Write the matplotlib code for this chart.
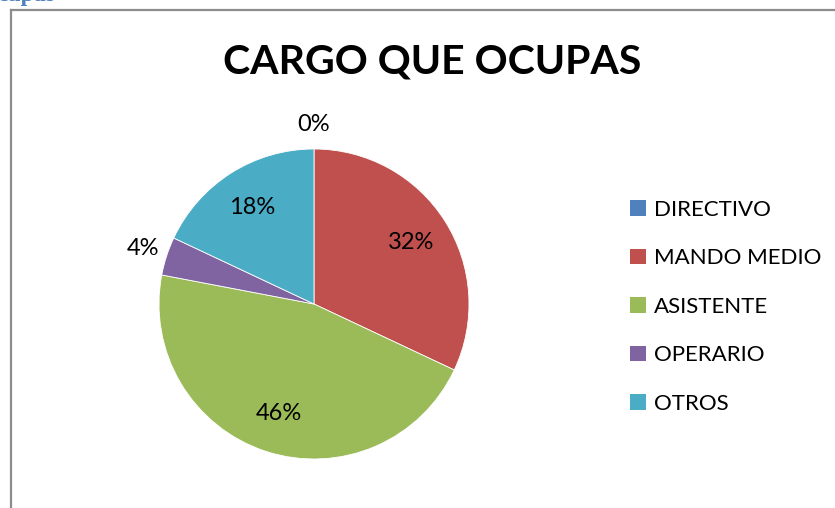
import matplotlib.pyplot as plt
import numpy as np
from matplotlib.lines import Line2D
from matplotlib.patches import Patch

categorias = ['DIRECTIVO', 'MANDO MEDIO', 'ASISTENTE', 'OPERARIO', 'OTROS']
valores = [0, 32, 46, 4, 18]
colores = ['#4F81BD', '#C0504D', '#9BBB59', '#8064A2', '#4BACC6']

plt.rcParams['font.family'] = ['Lato', 'DejaVu Sans']

W, H = 835, 508
fig = plt.figure(figsize=(W / 100, H / 100), dpi=100)

# marco del grafico (borde gris arriba e izquierda)
fig.add_artist(Line2D([11 / W, 11 / W], [0, 1 - 10 / H], color='#8c8c8c', lw=1.6))
fig.add_artist(Line2D([11 / W, 1], [1 - 10 / H, 1 - 10 / H], color='#8c8c8c', lw=1.6))

# texto del documento cortado arriba
fig.text(-3 / W, 1 + 4 / H, 'cupas', color='#4F81BD', fontsize=17, fontweight='bold',
         family='Liberation Serif', ha='left', va='center')

fig.text(432 / W, 1 - 62 / H, 'CARGO QUE OCUPAS', fontsize=29.5, fontweight='bold',
         ha='center', va='center')

# pastel
cx, cy, r = 314, 304, 155
ax = fig.add_axes([(cx - r) / W, (H - cy - r) / H, 2 * r / W, 2 * r / H])
wedges, textos, pcts = ax.pie(valores, colors=colores, startangle=90, counterclock=False,
                              autopct='%1.0f%%', pctdistance=0.74,
                              wedgeprops=dict(edgecolor='white', linewidth=0.6),
                              textprops=dict(fontsize=17))
for w, t, v in zip(wedges, pcts, valores):
    if v < 5:
        ang = np.deg2rad((w.theta1 + w.theta2) / 2)
        t.set_position((1.16 * np.cos(ang), 1.16 * np.sin(ang)))
ax.set_xlim(-1, 1)
ax.set_ylim(-1, 1)
ax.set_aspect('equal')

handles = [Patch(facecolor=c, edgecolor='none') for c in colores]
fig.legend(handles, categorias, loc='upper left', bbox_to_anchor=(621 / W, 1 - 191 / H),
           frameon=False, fontsize=16, handlelength=0.72, handleheight=0.72,
           handletextpad=0.35, labelspacing=1.28, borderaxespad=0)

fig.savefig('out.png', dpi=100)
